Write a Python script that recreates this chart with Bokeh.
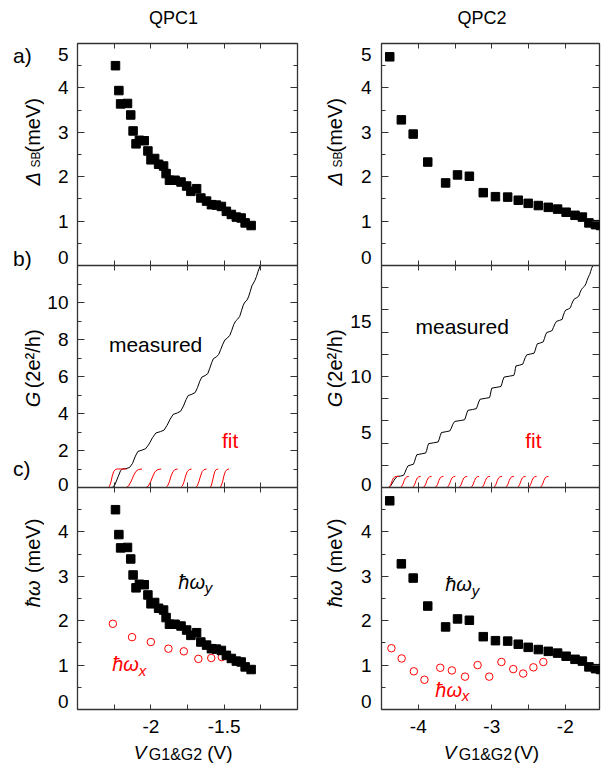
from bokeh.plotting import figure
from bokeh.models import Range1d, LinearAxis, FixedTicker, Span, Label
from bokeh.layouts import row, column
from bokeh.embed import file_html
from bokeh.resources import INLINE

FONT = "Liberation Sans"
INK = "#000000"
RED = "#ff0000"
FRAME = "#333333"
BASE_SHIFT = 0.35   # Label anchor -> glyph baseline distance, in em

# ---------------- data ----------------
# QPC1 : gate voltage (V) of the Delta_SB / hbar*omega_y squares
QPC1_V = [-2.241, -2.218, -2.206, -2.159, -2.137, -2.121, -2.101, -2.078, -2.045, -2.020,
          -1.999, -1.974, -1.947, -1.913, -1.896, -1.873, -1.835, -1.794, -1.756, -1.727,
          -1.688, -1.659, -1.620, -1.587, -1.553, -1.519, -1.485, -1.451, -1.417, -1.384,
          -1.357, -1.316]
QPC1_DELTA = [4.50, 3.94, 3.64, 3.65, 3.39, 3.03, 2.74, 2.82, 2.81, 2.58,
              2.38, 2.41, 2.28, 2.24, 2.07, 1.92, 1.92, 1.88, 1.79, 1.67,
              1.73, 1.52, 1.45, 1.37, 1.36, 1.33, 1.22, 1.15, 1.09, 1.07,
              0.96, 0.90]
QPC1_VX = [-2.259, -2.128, -2.000, -1.880, -1.775, -1.676, -1.588, -1.516]
QPC1_HWX = [1.93, 1.63, 1.52, 1.37, 1.31, 1.14, 1.16, 1.18]
QPC1_MEAS_V = [-2.262, -2.245, -2.222, -2.207, -2.195, -2.170, -2.145, -2.125, -2.105, -2.088,
               -2.060, -2.035, -2.012, -1.988, -1.965, -1.935, -1.910, -1.890, -1.868, -1.848,
               -1.820, -1.797, -1.778, -1.760, -1.745, -1.720, -1.697, -1.682, -1.666, -1.652,
               -1.630, -1.612, -1.598, -1.585, -1.573, -1.555, -1.538, -1.524, -1.509, -1.495,
               -1.478, -1.462, -1.448, -1.435, -1.422, -1.408, -1.394, -1.382, -1.370, -1.359,
               -1.345, -1.334, -1.322, -1.311, -1.300, -1.290, -1.280, -1.268, -1.254]
QPC1_MEAS_G = [0.0, 0.15, 0.6, 0.9, 1.0, 1.02, 1.08, 1.3, 1.7, 1.95,
               2.02, 2.1, 2.35, 2.7, 2.95, 3.02, 3.1, 3.35, 3.7, 3.95,
               4.03, 4.12, 4.4, 4.75, 4.97, 5.04, 5.14, 5.4, 5.75, 5.97,
               6.05, 6.15, 6.45, 6.75, 6.97, 7.05, 7.18, 7.45, 7.75, 7.98,
               8.08, 8.22, 8.5, 8.8, 9.0, 9.1, 9.25, 9.55, 9.85, 10.02,
               10.12, 10.3, 10.6, 10.9, 11.05, 11.2, 11.4, 11.7, 12.0]
QPC1_FIT_V = [
    [-2.290, -2.281, -2.272, -2.263, -2.253, -2.242, -2.229, -2.165],
    [-2.168, -2.152, -2.136, -2.119, -2.103, -2.084, -2.060],
    [-2.033, -2.017, -2.002, -1.986, -1.971, -1.952, -1.929],
    [-1.898, -1.886, -1.874, -1.862, -1.849, -1.835, -1.817],
    [-1.796, -1.785, -1.774, -1.763, -1.752, -1.738, -1.722],
    [-1.695, -1.684, -1.673, -1.661, -1.650, -1.637, -1.620],
    [-1.598, -1.589, -1.581, -1.572, -1.564, -1.554, -1.541],
    [-1.530, -1.521, -1.511, -1.502, -1.492, -1.481, -1.467],
]
QPC1_FIT_G = [
    [0.0, 0.08, 0.3, 0.62, 0.86, 0.97, 1.0, 1.0],
    [0.0, 0.08, 0.3, 0.62, 0.86, 0.97, 1.0],
    [0.0, 0.08, 0.3, 0.62, 0.86, 0.97, 1.0],
    [0.0, 0.08, 0.3, 0.62, 0.86, 0.97, 1.0],
    [0.0, 0.08, 0.3, 0.62, 0.86, 0.97, 1.0],
    [0.0, 0.08, 0.3, 0.62, 0.86, 0.97, 1.0],
    [0.0, 0.08, 0.3, 0.62, 0.86, 0.97, 1.0],
    [0.0, 0.08, 0.3, 0.62, 0.86, 0.97, 1.0],
]

# QPC2
QPC2_V = [-4.388, -4.230, -4.069, -3.871, -3.628, -3.466, -3.305, -3.116, -2.950, -2.784,
          -2.640, -2.505, -2.367, -2.232, -2.105, -1.989, -1.868, -1.768, -1.679, -1.589, -1.520]
QPC2_DELTA = [4.70, 3.28, 2.96, 2.33, 1.86, 2.04, 2.01, 1.64, 1.55, 1.54,
              1.47, 1.40, 1.35, 1.31, 1.27, 1.20, 1.13, 1.09, 0.96, 0.92, 0.90]
QPC2_VX = [-4.365, -4.226, -4.060, -3.916, -3.701, -3.543, -3.364, -3.193, -3.035, -2.869,
           -2.708, -2.573, -2.434, -2.299]
QPC2_HWX = [1.38, 1.15, 0.86, 0.67, 0.94, 0.88, 0.74, 1.00, 0.74, 1.07, 0.91, 0.81, 0.95, 1.07]
QPC2_MEAS_V = [-4.400, -4.370, -4.330, -4.300, -4.284, -4.240, -4.200, -4.180, -4.160, -4.140,
               -4.100, -4.065, -4.050, -4.035, -4.020, -3.960, -3.900, -3.885, -3.873, -3.860,
               -3.790, -3.730, -3.715, -3.700, -3.685, -3.620, -3.570, -3.550, -3.530, -3.505,
               -3.430, -3.370, -3.355, -3.340, -3.325, -3.260, -3.210, -3.195, -3.178, -3.160,
               -3.090, -3.030, -3.020, -3.010, -3.000, -2.930, -2.875, -2.862, -2.848, -2.832,
               -2.760, -2.700, -2.688, -2.680, -2.672, -2.620, -2.580, -2.565, -2.545, -2.525,
               -2.470, -2.425, -2.410, -2.395, -2.380, -2.335, -2.300, -2.285, -2.268, -2.252,
               -2.210, -2.178, -2.163, -2.140, -2.120, -2.080, -2.042, -2.030, -2.012, -1.996,
               -1.960, -1.930, -1.915, -1.895, -1.876, -1.843, -1.816, -1.800, -1.780, -1.758,
               -1.737, -1.720, -1.705, -1.690, -1.680, -1.668, -1.656, -1.642, -1.625]
QPC2_MEAS_G = [0.0, 0.2, 0.65, 0.92, 1.0, 1.03, 1.1, 1.35, 1.7, 1.95,
               2.03, 2.1, 2.35, 2.7, 2.95, 3.03, 3.1, 3.35, 3.7, 3.95,
               4.03, 4.1, 4.35, 4.7, 4.95, 5.03, 5.1, 5.35, 5.7, 5.95,
               6.03, 6.1, 6.35, 6.7, 6.95, 7.03, 7.1, 7.35, 7.7, 7.95,
               8.03, 8.1, 8.35, 8.7, 8.95, 9.03, 9.1, 9.35, 9.7, 9.95,
               10.03, 10.1, 10.35, 10.7, 10.95, 11.03, 11.1, 11.35, 11.7, 11.95,
               12.03, 12.1, 12.35, 12.7, 12.95, 13.03, 13.12, 13.4, 13.75, 13.97,
               14.05, 14.15, 14.4, 14.75, 14.97, 15.05, 15.15, 15.45, 15.78, 15.98,
               16.07, 16.2, 16.5, 16.8, 17.0, 17.1, 17.25, 17.55, 17.85, 18.02,
               18.15, 18.35, 18.65, 18.9, 19.05, 19.2, 19.45, 19.75, 20.0]
QPC2_FIT_V = [
    [-4.406, -4.389, -4.371, -4.354, -4.337, -4.316, -4.291, -4.260],
    [-4.244, -4.227, -4.209, -4.192, -4.175, -4.154, -4.129],
    [-4.082, -4.065, -4.047, -4.030, -4.013, -3.992, -3.967],
    [-3.934, -3.917, -3.899, -3.882, -3.865, -3.844, -3.819],
    [-3.772, -3.755, -3.737, -3.720, -3.703, -3.682, -3.657],
    [-3.611, -3.594, -3.576, -3.559, -3.542, -3.521, -3.496],
    [-3.449, -3.432, -3.414, -3.397, -3.380, -3.359, -3.334],
    [-3.287, -3.270, -3.252, -3.235, -3.218, -3.197, -3.172],
    [-3.139, -3.122, -3.104, -3.087, -3.070, -3.049, -3.024],
    [-2.977, -2.960, -2.942, -2.925, -2.908, -2.887, -2.862],
    [-2.815, -2.798, -2.780, -2.763, -2.746, -2.725, -2.700],
    [-2.654, -2.637, -2.619, -2.602, -2.585, -2.564, -2.539],
    [-2.505, -2.488, -2.470, -2.453, -2.436, -2.415, -2.390],
    [-2.344, -2.327, -2.309, -2.292, -2.275, -2.254, -2.229],
]
QPC2_FIT_G = [[0.0, 0.08, 0.3, 0.62, 0.86, 0.97, 1.0, 1.0]] + \
             [[0.0, 0.08, 0.3, 0.62, 0.86, 0.97, 1.0] for _ in range(13)]

# ---------------- axes: ranges, ticks, tick labels ----------------
QPC1_XRANGE = (-2.5, -1.0)
QPC2_XRANGE = (-4.5, -1.535)
QPC1_XTICKS = [-2.25, -2.0, -1.75, -1.5, -1.25]
QPC1_XMAJOR = [-2.0, -1.5]
QPC1_XMINOR = [-2.25, -1.75, -1.25]
QPC1_XLABELS = ["-2", "-1.5"]
QPC2_XTICKS = [-4.0, -3.5, -3.0, -2.5, -2.0]
QPC2_XMAJOR = [-4.0, -3.0, -2.0]
QPC2_XMINOR = [-3.5, -2.5]
QPC2_XLABELS = ["-4", "-3", "-2"]

E_TOP = 5.0                        # panels a and c: 0 .. 5 meV
E_MAJOR = [1, 2, 3, 4]
E_MINOR = [0.5, 1.5, 2.5, 3.5, 4.5]
A_LABEL_POS = [0.17, 1, 2, 3, 4, 4.75]
A_LABELS = ["0", "1", "2", "3", "4", "5"]
C_LABEL_POS = [0.17, 1, 2, 3, 4]
C_LABELS = ["0", "1", "2", "3", "4"]
QPC1_G_TOP = 12.0
QPC1_G_MAJOR = [2, 4, 6, 8, 10]
QPC1_G_MINOR = [1, 3, 5, 7, 9, 11]
QPC1_G_LABEL_POS = [0.16, 2, 4, 6, 8, 10]
QPC1_G_LABELS = ["0", "2", "4", "6", "8", "10"]
QPC2_G_TOP = 20.0
QPC2_G_MAJOR = [2, 4, 6, 8, 10, 12, 14, 16, 18]
QPC2_G_MINOR = []
QPC2_G_LABEL_POS = [0.27, 5, 10, 15]
QPC2_G_LABELS = ["0", "5", "10", "15"]

# ---------------- page geometry (px) ----------------
FRAME_TOP, FRAME_BOTTOM = 43, 709
PANEL_PX = (FRAME_BOTTOM - FRAME_TOP) / 3.0
TOP_H = 38                       # strip with the column title
MAIN_BT = FRAME_TOP - TOP_H      # borders of the main plot
MAIN_BB = 32
MAIN_H = MAIN_BT + (FRAME_BOTTOM - FRAME_TOP) + MAIN_BB
BOT_H = 763 - TOP_H - MAIN_H     # strip with the x-axis title


def make_label(x, y, text, size, color, style, angle):
    return Label(x=x, y=y, text=text, text_font=FONT, text_font_size=f"{size}px",
                 text_color=color, text_font_style=style, angle=angle, angle_units="deg",
                 text_align="left", text_baseline="alphabetic")


def text_strip(x0, y0, w, h, texts):
    """A plain frame-only canvas that holds texts; positions = page px of the glyph baseline."""
    s = figure(width=w, height=h, x_range=Range1d(0, w), y_range=Range1d(0, h),
               x_axis_type=None, y_axis_type=None, toolbar_location=None, output_backend="svg",
               min_border_left=0, min_border_right=0, min_border_top=0, min_border_bottom=0,
               title=None)
    s.outline_line_color = None
    s.background_fill_color = "white"
    s.border_fill_color = "white"
    for t in texts:
        text, px, py, size = t[:4]
        color = t[4] if len(t) > 4 else INK
        style = t[5] if len(t) > 5 else "normal"
        angle = t[6] if len(t) > 6 else 0
        if angle == 90:
            px = px - BASE_SHIFT * size
        else:
            py = py - BASE_SHIFT * size
        s.add_layout(make_label(px - x0, y0 + h - py, text, size, color, style, angle))
    return s


def make_main(spec):
    xs, xe = spec["xr"]
    p = figure(width=spec["width"], height=MAIN_H, x_range=Range1d(xs, xe), y_range=Range1d(0, 3),
               x_axis_type=None, y_axis_type=None, toolbar_location=None, output_backend="svg",
               min_border_left=spec["bl"], min_border_right=spec["br"],
               min_border_top=MAIN_BT, min_border_bottom=MAIN_BB, title=None)
    p.outline_line_color = FRAME
    p.outline_line_width = 1.3
    p.background_fill_color = "white"
    p.border_fill_color = "white"
    gtop = spec["gtop"]
    p.extra_y_ranges = {"a": Range1d(-2 * E_TOP, E_TOP),
                        "b": Range1d(-gtop, 2 * gtop),
                        "c": Range1d(0, 3 * E_TOP)}

    # panel separators
    for loc in (1, 2):
        p.add_layout(Span(location=loc, dimension="width", line_color=FRAME, line_width=1.3))

    # ---- tick-only axes (zero size, fixed at frame edges) ----
    def tick_axis(side, loc, major, minor, lmaj, lmin, rname=None, both=False):
        kw = dict(ticker=FixedTicker(ticks=major, minor_ticks=minor), fixed_location=loc,
                  axis_line_color=None, major_label_text_color=None,
                  major_tick_in=lmaj, major_tick_out=lmaj if both else 0,
                  minor_tick_in=lmin, minor_tick_out=lmin if both else 0,
                  major_tick_line_color=FRAME, minor_tick_line_color=FRAME,
                  major_tick_line_width=1, minor_tick_line_width=1)
        if rname is not None:
            kw["y_range_name"] = rname
        p.add_layout(LinearAxis(**kw), side)

    for rname, maj, mnr in (("a", E_MAJOR, E_MINOR),
                            ("b", spec["gmajor"], spec["gminor"]),
                            ("c", E_MAJOR, E_MINOR)):
        tick_axis("left", xs, maj, mnr, 7, 4, rname)
        tick_axis("right", xe, maj, mnr, 7, 4, rname)
    tick_axis("above", 3, spec["xticks"], [], 5, 5)
    tick_axis("below", 2, spec["xticks"], [], 5, 5, both=True)
    tick_axis("below", 1, spec["xticks"], [], 5, 5, both=True)

    # ---- one ordinary left axis carrying the tick labels of all three panels ----
    pos, labs = [], []
    for q, t in zip(A_LABEL_POS, A_LABELS):
        pos.append(2 + q / E_TOP); labs.append(t)
    for q, t in zip(spec["glpos"], spec["gl"]):
        pos.append(1 + q / gtop); labs.append(t)
    for q, t in zip(C_LABEL_POS, C_LABELS):
        pos.append(q / E_TOP); labs.append(t)
    ly = LinearAxis(ticker=FixedTicker(ticks=pos, minor_ticks=[]),
                    major_label_overrides={q: t for q, t in zip(pos, labs)},
                    major_tick_in=0, major_tick_out=0,
                    major_tick_line_color=None, minor_tick_line_color=None,
                    axis_line_color=None, major_label_standoff=spec["ystand"],
                    major_label_text_font=FONT, major_label_text_font_size="19px",
                    major_label_text_color=INK)
    p.add_layout(ly, "left")

    # ---- bottom x axis with labels ----
    bx = LinearAxis(ticker=FixedTicker(ticks=spec["xmajor"], minor_ticks=spec["xminor"]),
                    major_label_overrides={q: t for q, t in zip(spec["xmajor"], spec["xlabels"])},
                    major_tick_in=5, major_tick_out=0, minor_tick_in=5, minor_tick_out=0,
                    major_tick_line_color=FRAME, minor_tick_line_color=FRAME,
                    axis_line_color=None, major_label_standoff=10,
                    major_label_text_font=FONT, major_label_text_font_size="19px",
                    major_label_text_color=INK)
    p.add_layout(bx, "below")

    # ---- data ----
    p.line(spec["meas_v"], spec["meas_g"], y_range_name="b", line_color=INK, line_width=1)
    for fv, fg in zip(spec["fit_v"], spec["fit_g"]):
        p.line(fv, fg, y_range_name="b", line_color=RED, line_width=1)
    p.scatter(spec["v"], spec["delta"], y_range_name="a", marker="square", size=8.5,
              fill_color=INK, line_color=INK)
    p.scatter(spec["vx"], spec["hwx"], y_range_name="c", marker="circle", size=7.5,
              fill_color=None, line_color=RED, line_width=1)
    p.scatter(spec["v"], spec["delta"], y_range_name="c", marker="square", size=8.5,
              fill_color=INK, line_color=INK)

    # ---- in-frame texts (page px of baseline -> data of the default ranges) ----
    fl, fw = spec["fl"], spec["fw"]
    for t in spec["texts"]:
        text, px, py, size = t[:4]
        color = t[4] if len(t) > 4 else INK
        style = t[5] if len(t) > 5 else "normal"
        py = py - BASE_SHIFT * size
        x = xs + (px - fl) * (xe - xs) / fw
        y = (FRAME_BOTTOM - py) / PANEL_PX
        p.add_layout(make_label(x, y, text, size, color, style, 0))
    return p


hw = "\u0127\u03c9"

# left column: strip 0..44, main 44..299 (frame 75..297)
L_STRIP_W, L_MAIN_W = 44, 255
# right column: strip 299..347, main 347..602 (frame 379..599)
R_STRIP_W, R_MAIN_W = 48, 255

col1 = dict(xr=QPC1_XRANGE, width=L_MAIN_W, bl=31, br=2, fl=75, fw=222, gtop=QPC1_G_TOP, ystand=9,
            gmajor=QPC1_G_MAJOR, gminor=QPC1_G_MINOR, glpos=QPC1_G_LABEL_POS, gl=QPC1_G_LABELS,
            xticks=QPC1_XTICKS, xmajor=QPC1_XMAJOR, xminor=QPC1_XMINOR, xlabels=QPC1_XLABELS,
            v=QPC1_V, delta=QPC1_DELTA, vx=QPC1_VX, hwx=QPC1_HWX,
            meas_v=QPC1_MEAS_V, meas_g=QPC1_MEAS_G, fit_v=QPC1_FIT_V, fit_g=QPC1_FIT_G,
            texts=[
                ("measured", 106.7, 351.7, 21),
                ("fit", 220.7, 447.7, 21, RED),
                (hw, 176.7, 588.3, 20, INK, "italic"),
                ("y", 203.3, 592.3, 15, INK, "italic"),
                (hw, 110, 670.7, 20, RED, "italic"),
                ("x", 136.7, 675, 15, RED, "italic"),
            ])
col2 = dict(xr=QPC2_XRANGE, width=R_MAIN_W, bl=32, br=3, fl=379, fw=220, gtop=QPC2_G_TOP, ystand=10,
            gmajor=QPC2_G_MAJOR, gminor=QPC2_G_MINOR, glpos=QPC2_G_LABEL_POS, gl=QPC2_G_LABELS,
            xticks=QPC2_XTICKS, xmajor=QPC2_XMAJOR, xminor=QPC2_XMINOR, xlabels=QPC2_XLABELS,
            v=QPC2_V, delta=QPC2_DELTA, vx=QPC2_VX, hwx=QPC2_HWX,
            meas_v=QPC2_MEAS_V, meas_g=QPC2_MEAS_G, fit_v=QPC2_FIT_V, fit_g=QPC2_FIT_G,
            texts=[
                ("measured", 413.3, 333.7, 21),
                ("fit", 524, 447.7, 21, RED),
                (hw, 443.3, 590.7, 20, INK, "italic"),
                ("y", 470, 595, 15, INK, "italic"),
                (hw, 433.3, 696, 20, RED, "italic"),
                ("x", 460, 700, 15, RED, "italic"),
            ])


def ylabel_texts(bx):
    return [
        ("\u0394", bx, 188, 20, INK, "italic", 90),
        ("SB", bx + 0.5, 169, 12, INK, "normal", 90),
        ("(meV)", bx, 153, 20, INK, "normal", 90),
        ("G", bx, 422, 20, INK, "italic", 90),
        ("(2e\u00b2/h)", bx, 402, 20, INK, "normal", 90),
        (hw, bx, 633, 20, INK, "italic", 90),
        ("(meV)", bx, 597, 20, INK, "normal", 90),
    ]


LW = L_STRIP_W + L_MAIN_W
RW = R_STRIP_W + R_MAIN_W

top1 = text_strip(0, 0, LW, TOP_H, [("QPC1", 148.5, 24, 18)])
top2 = text_strip(LW, 0, RW, TOP_H, [("QPC2", 457, 24, 18)])
side1 = text_strip(0, TOP_H, L_STRIP_W, MAIN_H,
                   [("a)", 12.5, 57.5, 21), ("b)", 12.5, 272, 21), ("c)", 12.5, 493.5, 21)]
                   + ylabel_texts(39.5))
side2 = text_strip(LW, TOP_H, R_STRIP_W, MAIN_H, ylabel_texts(341.5))
bot1 = text_strip(0, TOP_H + MAIN_H, LW, BOT_H,
                  [("V", 133.3, 758.5, 19, INK, "italic"), ("G1&G2", 148.3, 759.5, 16),
                   ("(V)", 206.7, 758.5, 19)])
bot2 = text_strip(LW, TOP_H + MAIN_H, RW, BOT_H,
                  [("V", 443.3, 758.5, 19, INK, "italic"), ("G1&G2", 458.3, 759.5, 16),
                   ("(V)", 513.3, 758.5, 19)])

main1 = make_main(col1)
main2 = make_main(col2)

layout = row(column(top1, row(side1, main1), bot1),
             column(top2, row(side2, main2), bot2))
open("out.html", "w").write(file_html(layout, INLINE))
